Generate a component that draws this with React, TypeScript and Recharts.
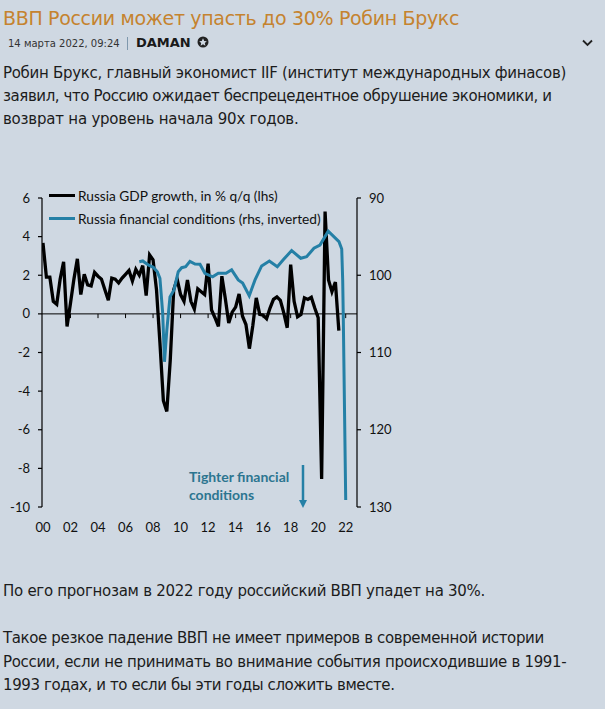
import React from 'react';
import { LineChart, Line, XAxis, YAxis, ReferenceLine } from 'recharts';

const gdpValues = [
  3.67, 1.9, 1.9, 0.65, 0.5, 1.8, 2.7, -0.65, 0.55, 1.8, 2.85, 1.0, 2.05, 1.5, 1.45, 2.15,
  1.95, 1.8, 1.25, 0.7, 1.85, 1.8, 1.6, 1.85, 2.05, 2.25, 1.7, 2.3, 2.0, 2.5, 0.95, 3.05,
  2.8, 1.25, -1.5, -4.5, -5.05, -2.4, 1.25, 1.8, 1.0, 0.65, 1.75, 0.65, 0.25, 1.3, 1.15, 1.0,
  2.6, 0.2, -0.2, -0.65, 1.95, 0.8, -0.47, 0.09, 0.35, 1.03, -0.12, -0.55, -1.8, -0.6, 0.83, -0.03,
  -0.07, -0.25, 0.3, 0.75, 0.88, 0.7, 0.05, -0.72, 2.55, 0.65, -0.15, -0.03, 0.83, 0.75, 0.86, 0.3,
  -0.2, -8.55, 5.3, 1.75, 1.15, 1.65, -0.87,
];

const finYears = [
  2007.0, 2007.25, 2007.65, 2008.02, 2008.31, 2008.5, 2008.7, 2008.83, 2009.0, 2009.23, 2009.52, 2009.83,
  2010.08, 2010.37, 2010.68, 2011.05, 2011.41, 2011.77, 2012.33, 2012.74, 2013.3, 2013.71, 2014.19, 2014.51,
  2014.99, 2015.41, 2015.89, 2016.45, 2017.03, 2017.46, 2018.07, 2018.73, 2019.16, 2019.69, 2020.13, 2020.73,
  2021.34, 2021.51, 2021.71, 2021.78, 2021.82, 2022.0,
];
const finValues = [
  98.25, 98.15, 98.67, 98.97, 99.54, 100.4, 104.9, 111.2, 107.1, 102.8, 101.9, 99.54,
  99.02, 98.89, 98.2, 98.55, 98.58, 99.75, 100.2, 99.75, 99.75, 99.3, 100.6, 101.0,
  102.65, 100.6, 98.8, 98.15, 98.9, 98.0, 96.8, 97.8, 97.6, 96.5, 96.1, 94.3,
  95.35, 95.65, 96.6, 100.6, 105, 129.1,
];

const xTicks = [2000, 2002, 2004, 2006, 2008, 2010, 2012, 2014, 2016, 2018, 2020, 2022];
const leftTicks = [6, 4, 2, 0, -2, -4, -6, -8, -10];
const rightTicks = [90, 100, 110, 120, 130];

const gdpData = gdpValues.map((gdp, i) => ({ year: 2000 + i * 0.25, gdp }));
const finData = finYears.map((year, i) => ({ year, fin: finValues[i] }));

const BLACK = '#000000';
const BLUE = '#2580a6';
const CHART_FONT = 'Lato, "Open Sans", sans-serif';
const TEXT_FONT = '"DejaVu Sans", Verdana, sans-serif';

function TextLine({ top, left = 3, size = 15, color = '#1c1c1c', spacing = -0.42, children, style }: any) {
  return (
    <div
      style={{
        position: 'absolute',
        top,
        left,
        fontSize: size,
        color,
        lineHeight: '20px',
        whiteSpace: 'nowrap',
        fontFamily: TEXT_FONT,
        letterSpacing: spacing,
        ...style,
      }}
    >
      {children}
    </div>
  );
}

export default function App() {
  return (
    <div style={{ position: 'absolute', left: 0, top: 0, width: 605, height: 709, background: '#cfd8e2', overflow: 'hidden' }}>
      <TextLine top={8} size={19} color="#c5832f" spacing={-0.33}>ВВП России может упасть до 30% Робин Брукс</TextLine>
      <TextLine top={34} left={8} size={10} color="#333" spacing={0}>14 марта 2022, 09:24</TextLine>
      <div style={{ position: 'absolute', left: 127, top: 37, width: 1, height: 13, background: '#7f98ad' }} />
      <TextLine top={33} left={136} size={13} color="#1a1a1a" spacing={0} style={{ fontWeight: 700 }}>DAMAN</TextLine>
      <svg style={{ position: 'absolute', left: 0, top: 0 }} width={605} height={60}>
        <circle cx={203} cy={42} r={5.5} fill="#222" />
        <polygon points="203,38.2 204.2,41 206.8,41.2 204.8,43 205.4,45.8 203,44.3 200.6,45.8 201.2,43 199.2,41.2 201.8,41" fill="#cfd8e2" />
        <polyline points="583,40.5 587.5,45 592,40.5" fill="none" stroke="#222" strokeWidth={1.8} />
      </svg>

      <TextLine top={63} spacing={-0.3}>Робин Брукс, главный экономист IIF (институт международных финасов)</TextLine>
      <TextLine top={86}>заявил, что Россию ожидает беспрецедентное обрушение экономики, и</TextLine>
      <TextLine top={109} spacing={-0.22}>возврат на уровень начала 90х годов.</TextLine>

      <div style={{ position: 'absolute', left: 0, top: 0 }}>
        <LineChart
          width={605}
          height={560}
          margin={{ top: 198, right: 212, bottom: 23, left: 12 }}
        >
          <XAxis
            xAxisId="x"
            dataKey="year"
            type="number"
            domain={[1999.93, 2022.82]}
            ticks={xTicks}
            allowDataOverflow
            axisLine={false}
            tickLine={false}
            height={30}
            interval={0}
            tickMargin={10}
            tick={{ fill: '#111', fontSize: 13, fontFamily: CHART_FONT }}
            tickFormatter={(v: number) => String(v).slice(2)}
          />
          <YAxis
            yAxisId="gdp"
            orientation="left"
            width={30}
            domain={[-10, 6]}
            ticks={leftTicks}
            interval={0}
            axisLine={{ stroke: '#000', strokeWidth: 1.2 }}
            tickLine={{ stroke: '#000', strokeWidth: 1.2 }}
            tickSize={4}
            tickMargin={8}
            tick={{ fill: '#111', fontSize: 13, fontFamily: CHART_FONT }}
          />
          <YAxis
            yAxisId="fin"
            orientation="right"
            width={36}
            domain={[90, 130]}
            reversed
            ticks={rightTicks}
            interval={0}
            axisLine={{ stroke: '#000', strokeWidth: 1.2 }}
            tickLine={{ stroke: '#000', strokeWidth: 1.2 }}
            tickSize={4}
            tickMargin={8}
            tick={{ fill: '#111', fontSize: 13, fontFamily: CHART_FONT }}
          />
          <ReferenceLine xAxisId="x" yAxisId="gdp" y={0} stroke="#000" strokeWidth={1} />
          {xTicks.slice(1).map((t) => (
            <ReferenceLine
              key={t}
              xAxisId="x"
              yAxisId="gdp"
              segment={[{ x: t, y: 0 }, { x: t, y: -0.22 }]}
              stroke="#000"
              strokeWidth={1}
            />
          ))}
          <Line
            xAxisId="x"
            yAxisId="gdp"
            data={gdpData}
            dataKey="gdp"
            type="linear"
            stroke={BLACK}
            strokeWidth={3.3}
            dot={false}
            isAnimationActive={false}
          />
          <Line
            xAxisId="x"
            yAxisId="fin"
            data={finData}
            dataKey="fin"
            type="linear"
            stroke={BLUE}
            strokeWidth={3}
            dot={false}
            isAnimationActive={false}
          />
        </LineChart>
      </div>

      {/* Legend */}
      <div style={{ position: 'absolute', left: 49, top: 185, fontFamily: CHART_FONT, fontSize: 13.7, color: '#111', whiteSpace: 'nowrap' }}>
        <div style={{ display: 'flex', alignItems: 'center', height: 20 }}>
          <div style={{ width: 26, height: 3, background: BLACK, marginRight: 3 }} />
          <span>Russia GDP growth, in % q/q (lhs)</span>
        </div>
        <div style={{ display: 'flex', alignItems: 'center', height: 20, marginTop: 3 }}>
          <div style={{ width: 26, height: 3, background: BLUE, marginRight: 3 }} />
          <span>Russia financial conditions (rhs, inverted)</span>
        </div>
      </div>

      {/* Annotation */}
      <div style={{ position: 'absolute', left: 189, top: 468, fontFamily: CHART_FONT, fontSize: 14, fontWeight: 700, color: '#2c7590', lineHeight: '18px' }}>
        Tighter financial<br />conditions
      </div>
      <svg style={{ position: 'absolute', left: 290, top: 460 }} width={30} height={55}>
        <line x1={13} y1={5} x2={13} y2={42} stroke={BLUE} strokeWidth={2.5} />
        <polygon points="9,40 17,40 13,48" fill={BLUE} />
      </svg>

      <TextLine top={581} spacing={-0.28}>По его прогнозам в 2022 году российский ВВП упадет на 30%.</TextLine>
      <TextLine top={628} spacing={-0.37}>Такое резкое падение ВВП не имеет примеров в современной истории</TextLine>
      <TextLine top={652} spacing={-0.32}>России, если не принимать во внимание события происходившие в 1991-</TextLine>
      <TextLine top={675} spacing={-0.4}>1993 годах, и то если бы эти годы сложить вместе.</TextLine>
    </div>
  );
}
